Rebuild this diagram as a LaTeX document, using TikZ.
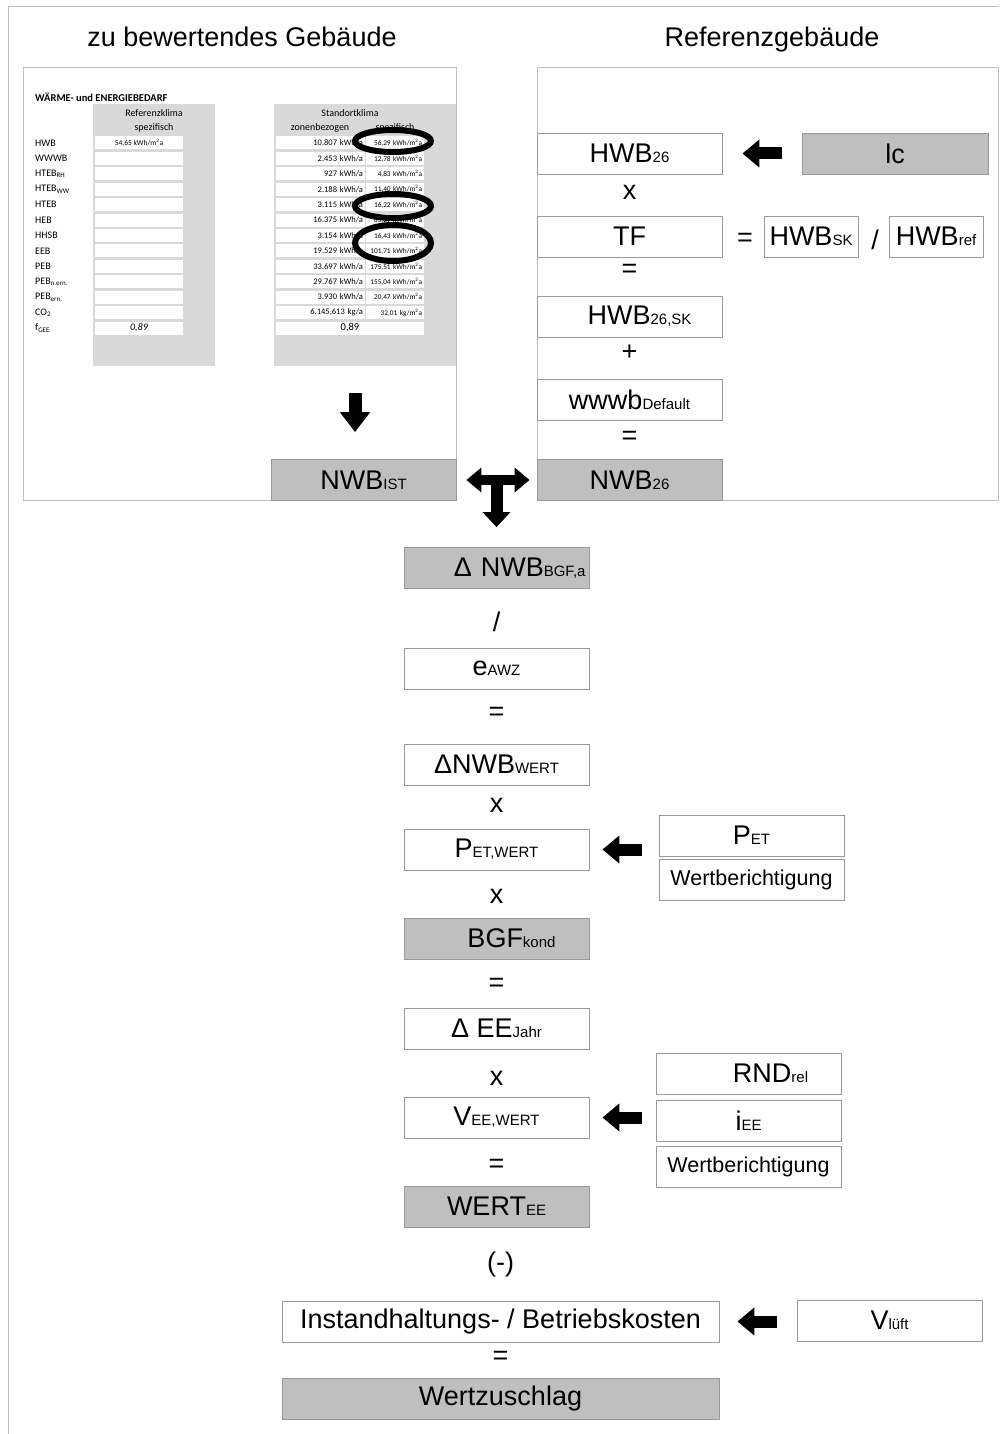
\documentclass[tikz,border=0pt]{standalone}
\usepackage{fontspec}
\setmainfont{Liberation Sans}
\newfontfamily\tabfont{Carlito}
\usetikzlibrary{arrows.meta, positioning, calc}

\newcommand{\sub}[1]{{\fontsize{15}{15}\selectfont #1}}
\newcommand{\tsub}[1]{\textsubscript{#1}}

\begin{document}
\begin{tikzpicture}[x=1pt, y=-1pt,
    panel/.style={draw=black!25, line width=0.8pt},
    box/.style={draw=black!40, line width=0.8pt, fill=white, minimum width=185pt, minimum height=41pt, inner sep=0pt, font=\fontsize{27}{27}\selectfont},
    greybox/.style={box, fill=black!25},
    smallbox/.style={box, minimum width=94pt},
    wbbox/.style={box, font=\fontsize{21.5}{21.5}\selectfont},
    op/.style={inner sep=0pt, font=\fontsize{27}{27}\selectfont},
    title/.style={anchor=base, font=\fontsize{27}{27}\selectfont},
    fatarrow/.style={line width=12pt, -{Triangle[length=17pt, width=27pt]}},
    tcol/.style={fill=black!15, inner sep=0pt},
    tcell/.style={fill=white, inner sep=2pt, minimum height=13pt, font=\tabfont\fontsize{8.5}{9}\selectfont},
    tlabel/.style={anchor=west, inner sep=0pt, font=\tabfont\fontsize{10}{11}\selectfont},
    ring/.style={line width=6pt}
]
    \useasboundingbox (0,0) rectangle (999,1434);

    % outer frame
    \draw[panel] (8,1434) -- (8,6) -- (999,6);

    % headings
    \node[title] (tleft) at (242,47) {zu bewertendes Gebäude};
    \node[title] (tright) at (772,47) {Referenzgebäude};

    % panels
    \draw[panel] (23,67) rectangle (456,500);
    \draw[panel] (537,67) rectangle (998,500);

    % energy certificate table
    \node[tlabel, font=\tabfont\bfseries\fontsize{10.5}{11}\selectfont] (ttitle) at (35,97) {WÄRME- und ENERGIEBEDARF};
    \node[tcol, minimum width=122pt, minimum height=262pt] (col1) at (154,235) {};
    \node[tcol, minimum width=182pt, minimum height=262pt] (col2) at (365,235) {};
    \node[tlabel, anchor=center] (h1) at (154,113) {Referenzklima};
    \node[tlabel, anchor=center] (h2) at (154,128) {spezifisch};
    \node[tlabel, anchor=center] (h3) at (350,113) {Standortklima};
    \node[tlabel, anchor=center] (h4) at (320,128) {zonenbezogen};
    \node[tlabel, anchor=center] (h5) at (395,128) {spezifisch};

    \foreach \lab [count=\i from 0] in {HWB, WWWB, HTEB\tsub{RH}, HTEB\tsub{WW}, HTEB, HEB, HHSB, EEB, PEB, PEB\tsub{n.ern.}, PEB\tsub{ern.}, CO\tsub{2}, f\tsub{GEE}} {
        \node[tlabel] (lab\i) at (35,{143+15.42*\i}) {\lab};
        \node[tcell, minimum width=88pt] (ref\i) at (139,{143+15.42*\i}) {};
    }
    \node[tcell, fill=none, font=\tabfont\fontsize{7.5}{8}\selectfont] at (ref0) {54,65 kWh/m\textsuperscript{2}a};
    \node[tcell, fill=none, font=\tabfont\itshape\fontsize{10}{11}\selectfont] at (ref12) {0,89};

    \foreach \zon/\spe/\u [count=\i from 0] in {{10.807}/{56,29}/kWh, {2.453}/{12,78}/kWh, {927}/{4,83}/kWh, {2.188}/{11,40}/kWh, {3.115}/{16,22}/kWh, {16.375}/{85,29}/kWh, {3.154}/{16,43}/kWh, {19.529}/{101,71}/kWh, {33.697}/{175,51}/kWh, {29.767}/{155,04}/kWh, {3.930}/{20,47}/kWh, {6.145,613}/{32,01}/kg} {
        \node[tcell, text width=85pt, align=right] (zon\i) at (320.5,{143+15.42*\i}) {\zon\ \u/a};
        \node[tcell, text width=54pt, align=right, font=\tabfont\fontsize{7.3}{8}\selectfont] (spe\i) at (395,{143+15.42*\i}) {\spe\ \u/m\textsuperscript{2}a};
    }
    \node[tcell, minimum width=148pt, font=\tabfont\fontsize{10.5}{11}\selectfont] (zon12) at (350,328) {0,89};

    % highlighted values
    \draw[ring] (393,141) ellipse [x radius=38pt, y radius=11pt];
    \draw[ring] (393,206) ellipse [x radius=38pt, y radius=12pt];
    \draw[ring] (393,243) ellipse [x radius=38pt, y radius=18pt];

    \node[greybox] (nwbist) at (363.5,480) {NWB\sub{IST}};
    \draw[fatarrow, line width=13pt, -{Triangle[length=20pt, width=29pt]}] ([xshift=-10pt, yshift=-27pt]col2.south) -- ([xshift=-8.5pt, yshift=27pt]nwbist.north);

    % reference building
    \node[box] (hwb26) at (629.5,153.5) {HWB\sub{26}};
    \node[op] (opx1) at (629.5,192) {x};
    \node[box] (tf) at (629.5,236.5) {TF};
    \node[op] (opeq1) at (629.5,271) {=};
    \node[box] (hwb26sk) at (629.5,316.5) {\hspace*{20pt}HWB\sub{26,SK}};
    \node[op] (opplus) at (629.5,353) {+};
    \node[box] (wwwb) at (629.5,399.5) {wwwb\sub{Default}};
    \node[op] (opeq2) at (629.5,438) {=};
    \node[greybox] (nwb26) at (629.5,480) {NWB\sub{26}};

    \node[greybox, minimum width=186pt] (lc) at (895,153.5) {lc};
    \draw[fatarrow] ([xshift=-20pt]lc.west) -- ([xshift=20pt]hwb26.east);

    \node[op] (opeq3) at (745,240) {=};
    \node[smallbox] (hwbsk) at (811,236.5) {HWB\sub{SK}};
    \node[op] (opdiv1) at (875,240) {/};
    \node[smallbox] (hwbref) at (936,236.5) {HWB\sub{ref}};

    % T junction
    \coordinate (tjoin) at ($(nwbist.east)!0.5!(nwb26.west)$);
    \draw[line width=10pt, {Triangle[length=15pt, width=24pt]}-{Triangle[length=15pt, width=24pt]}] ([xshift=10pt]nwbist.east) -- ([xshift=-7pt]nwb26.west);

    % value chain
    \node[greybox, text width=178pt, align=right] (dnwb) at (496.5,568) {Δ NWB\sub{BGF,a}};
    \draw[fatarrow, -{Triangle[length=15pt, width=27pt]}] (tjoin) -- ([yshift=20pt]dnwb.north);
    \node[op] (opdiv2) at (496.5,622) {/};
    \node[box] (eawz) at (496.5,668.5) {e\sub{AWZ}};
    \node[op] (opeq4) at (496.5,714) {=};
    \node[box] (dnwbwert) at (496.5,764.5) {ΔNWB\sub{WERT}};
    \node[op] (opx2) at (496.5,805) {x};
    \node[box] (petwert) at (496.5,849.5) {P\sub{ET,WERT}};
    \node[op] (opx3) at (496.5,896) {x};
    \node[greybox] (bgf) at (496.5,938.5) {\hspace*{30pt}BGF\sub{kond}};
    \node[op] (opeq5) at (496.5,985) {=};
    \node[box] (deejahr) at (496.5,1028.5) {Δ EE\sub{Jahr}};
    \node[op] (opx4) at (496.5,1078) {x};
    \node[box] (veewert) at (496.5,1117.5) {V\sub{EE,WERT}};
    \node[op] (opeq6) at (496.5,1166) {=};
    \node[greybox] (wertee) at (496.5,1206.5) {WERT\sub{EE}};
    \node[op] (opminus) at (500.5,1264) {(-)};
    \node[box, minimum width=437pt] (instand) at (500.5,1321.5) {Instandhaltungs- / Betriebskosten};
    \node[op] (opeq7) at (500.5,1358) {=};
    \node[greybox, minimum width=437pt] (wertzu) at (500.5,1398.5) {Wertzuschlag};

    % inputs
    \node[box] (pet) at (751.5,835.5) {P\sub{ET}};
    \node[wbbox] (wb1) at (751.5,879.5) {Wertberichtigung};
    \draw[fatarrow] ([xshift=-17pt]pet.west |- petwert.east) -- ([xshift=13pt]petwert.east);

    \node[box] (rnd) at (748.5,1073.5) {\hspace*{44pt}RND\sub{rel}};
    \node[box] (iee) at (748.5,1120.5) {i\sub{EE}};
    \node[wbbox] (wb2) at (748.5,1166.5) {Wertberichtigung};
    \draw[fatarrow] ([xshift=-14pt]iee.west |- veewert.east) -- ([xshift=13pt]veewert.east);

    \node[box] (vlueft) at (889.5,1320.5) {V\sub{lüft}};
    \draw[fatarrow] ([xshift=-20pt]vlueft.west |- instand.east) -- ([xshift=18pt]instand.east);

\end{tikzpicture}
\end{document}
